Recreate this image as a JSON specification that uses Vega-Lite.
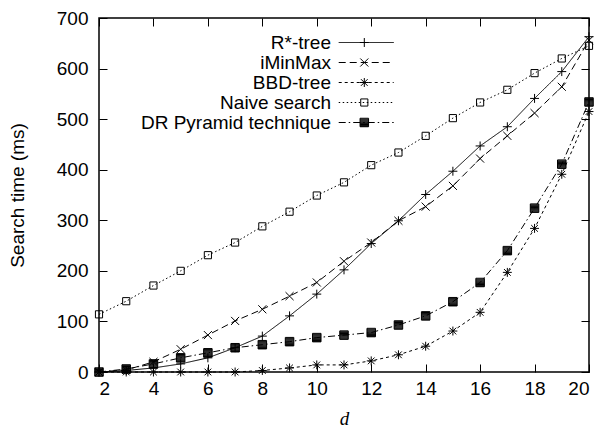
{
  "$schema": "https://vega.github.io/schema/vega-lite/v6.json",
  "autosize": "none",
  "padding": {"left": 99, "top": 18, "right": 13, "bottom": 57},
  "width": 490,
  "height": 354,
  "background": "white",
  "config": {
    "view": {"stroke": "black", "strokeWidth": 1.5},
    "font": "Liberation Sans",
    "axis": {
      "grid": false,
      "domain": false,
      "ticks": true,
      "tickColor": "black",
      "tickWidth": 1,
      "tickSize": -8,
      "labelFont": "Liberation Sans",
      "labelFontSize": 19,
      "labelColor": "black",
      "titleColor": "black",
      "titleFontWeight": "normal",
      "titleFontSize": 19
    },
    "legend": {
      "title": null,
      "padding": 0,
      "labelFont": "Liberation Sans",
      "labelFontSize": 19,
      "labelColor": "black",
      "labelLimit": 0,
      "rowPadding": -0.5,
      "symbolStrokeColor": "black",
      "symbolStrokeWidth": 1,
      "symbolFillColor": "transparent"
    }
  },
  "data": {
    "values": [
      {"d": 2, "series": "R*-tree", "t": 0},
      {"d": 3, "series": "R*-tree", "t": 3},
      {"d": 4, "series": "R*-tree", "t": 8},
      {"d": 5, "series": "R*-tree", "t": 16},
      {"d": 6, "series": "R*-tree", "t": 28},
      {"d": 7, "series": "R*-tree", "t": 48},
      {"d": 8, "series": "R*-tree", "t": 71},
      {"d": 9, "series": "R*-tree", "t": 111},
      {"d": 10, "series": "R*-tree", "t": 154},
      {"d": 11, "series": "R*-tree", "t": 202},
      {"d": 12, "series": "R*-tree", "t": 254},
      {"d": 13, "series": "R*-tree", "t": 299},
      {"d": 14, "series": "R*-tree", "t": 351},
      {"d": 15, "series": "R*-tree", "t": 397},
      {"d": 16, "series": "R*-tree", "t": 447},
      {"d": 17, "series": "R*-tree", "t": 485},
      {"d": 18, "series": "R*-tree", "t": 541},
      {"d": 19, "series": "R*-tree", "t": 594},
      {"d": 20, "series": "R*-tree", "t": 663},
      {"d": 2, "series": "iMinMax", "t": 0},
      {"d": 3, "series": "iMinMax", "t": 4},
      {"d": 4, "series": "iMinMax", "t": 20},
      {"d": 5, "series": "iMinMax", "t": 45},
      {"d": 6, "series": "iMinMax", "t": 73},
      {"d": 7, "series": "iMinMax", "t": 101},
      {"d": 8, "series": "iMinMax", "t": 124},
      {"d": 9, "series": "iMinMax", "t": 150},
      {"d": 10, "series": "iMinMax", "t": 177},
      {"d": 11, "series": "iMinMax", "t": 219},
      {"d": 12, "series": "iMinMax", "t": 256},
      {"d": 13, "series": "iMinMax", "t": 299},
      {"d": 14, "series": "iMinMax", "t": 327},
      {"d": 15, "series": "iMinMax", "t": 368},
      {"d": 16, "series": "iMinMax", "t": 422},
      {"d": 17, "series": "iMinMax", "t": 467},
      {"d": 18, "series": "iMinMax", "t": 512},
      {"d": 19, "series": "iMinMax", "t": 564},
      {"d": 20, "series": "iMinMax", "t": 656},
      {"d": 2, "series": "BBD-tree", "t": 0},
      {"d": 3, "series": "BBD-tree", "t": 0},
      {"d": 4, "series": "BBD-tree", "t": 0},
      {"d": 5, "series": "BBD-tree", "t": 0},
      {"d": 6, "series": "BBD-tree", "t": 0},
      {"d": 7, "series": "BBD-tree", "t": 0},
      {"d": 8, "series": "BBD-tree", "t": 3},
      {"d": 9, "series": "BBD-tree", "t": 8},
      {"d": 10, "series": "BBD-tree", "t": 14},
      {"d": 11, "series": "BBD-tree", "t": 14},
      {"d": 12, "series": "BBD-tree", "t": 22},
      {"d": 13, "series": "BBD-tree", "t": 34},
      {"d": 14, "series": "BBD-tree", "t": 51},
      {"d": 15, "series": "BBD-tree", "t": 81},
      {"d": 16, "series": "BBD-tree", "t": 118},
      {"d": 17, "series": "BBD-tree", "t": 197},
      {"d": 18, "series": "BBD-tree", "t": 284},
      {"d": 19, "series": "BBD-tree", "t": 391},
      {"d": 20, "series": "BBD-tree", "t": 515},
      {"d": 2, "series": "Naive search", "t": 114},
      {"d": 3, "series": "Naive search", "t": 140},
      {"d": 4, "series": "Naive search", "t": 171},
      {"d": 5, "series": "Naive search", "t": 200},
      {"d": 6, "series": "Naive search", "t": 231},
      {"d": 7, "series": "Naive search", "t": 256},
      {"d": 8, "series": "Naive search", "t": 288},
      {"d": 9, "series": "Naive search", "t": 317},
      {"d": 10, "series": "Naive search", "t": 349},
      {"d": 11, "series": "Naive search", "t": 375},
      {"d": 12, "series": "Naive search", "t": 409},
      {"d": 13, "series": "Naive search", "t": 434},
      {"d": 14, "series": "Naive search", "t": 467},
      {"d": 15, "series": "Naive search", "t": 502},
      {"d": 16, "series": "Naive search", "t": 533},
      {"d": 17, "series": "Naive search", "t": 558},
      {"d": 18, "series": "Naive search", "t": 591},
      {"d": 19, "series": "Naive search", "t": 620},
      {"d": 20, "series": "Naive search", "t": 645},
      {"d": 2, "series": "DR Pyramid technique", "t": 0},
      {"d": 3, "series": "DR Pyramid technique", "t": 6},
      {"d": 4, "series": "DR Pyramid technique", "t": 16},
      {"d": 5, "series": "DR Pyramid technique", "t": 28},
      {"d": 6, "series": "DR Pyramid technique", "t": 38},
      {"d": 7, "series": "DR Pyramid technique", "t": 48},
      {"d": 8, "series": "DR Pyramid technique", "t": 54},
      {"d": 9, "series": "DR Pyramid technique", "t": 60},
      {"d": 10, "series": "DR Pyramid technique", "t": 68},
      {"d": 11, "series": "DR Pyramid technique", "t": 73},
      {"d": 12, "series": "DR Pyramid technique", "t": 78},
      {"d": 13, "series": "DR Pyramid technique", "t": 93},
      {"d": 14, "series": "DR Pyramid technique", "t": 111},
      {"d": 15, "series": "DR Pyramid technique", "t": 139},
      {"d": 16, "series": "DR Pyramid technique", "t": 177},
      {"d": 17, "series": "DR Pyramid technique", "t": 240},
      {"d": 18, "series": "DR Pyramid technique", "t": 324},
      {"d": 19, "series": "DR Pyramid technique", "t": 411},
      {"d": 20, "series": "DR Pyramid technique", "t": 534}
    ]
  },
  "layer": [
    {
      "mark": {"type": "line", "color": "black", "strokeWidth": 1},
      "encoding": {
        "x": {
          "field": "d", "type": "quantitative",
          "scale": {"domain": [2, 20], "nice": false, "zero": false},
          "axis": {
            "orient": "bottom",
            "values": [2, 4, 6, 8, 10, 12, 14, 16, 18, 20],
            "labelPadding": 15,
            "title": "d",
            "titleFont": "Liberation Serif",
            "titleFontStyle": "italic",
            "titleX": 245,
            "titleY": 46,
            "titleBaseline": "middle",
            "titleAlign": "center"
          }
        },
        "y": {
          "field": "t", "type": "quantitative",
          "scale": {"domain": [0, 700], "nice": false},
          "axis": {
            "orient": "left",
            "values": [0, 100, 200, 300, 400, 500, 600, 700],
            "labelPadding": 19,
            "title": "Search time (ms)",
            "titleX": -82,
            "titleY": 177,
            "titleAngle": -90,
            "titleBaseline": "middle",
            "titleAlign": "center"
          }
        },
        "strokeDash": {
          "field": "series", "type": "nominal",
          "scale": {
            "domain": ["R*-tree", "iMinMax", "BBD-tree", "Naive search", "DR Pyramid technique"],
            "range": [[1, 0], [7, 4], [3, 3], [1.5, 2.5], [7, 3, 1.5, 3]]
          },
          "legend": {
            "orient": "none",
            "legendX": 257.7,
            "legendY": 15,
            "symbolType": "M-12,0H12",
            "symbolSize": 21,
            "labelAlign": "right",
            "labelOffset": -44.7
          }
        }
      }
    },
    {
      "mark": {"type": "point", "filled": true, "fill": "transparent", "stroke": "black", "strokeWidth": 1, "opacity": 1, "size": 80},
      "encoding": {
        "x": {"field": "d", "type": "quantitative", "axis": null},
        "y": {"field": "t", "type": "quantitative", "axis": null},
        "shape": {
          "field": "series", "type": "nominal",
          "scale": {
            "domain": ["R*-tree", "iMinMax", "BBD-tree", "Naive search", "DR Pyramid technique"],
            "range": [
              "M-1,0H1M0,-1V1",
              "M-0.9,-0.9L0.9,0.9M-0.9,0.9L0.9,-0.9",
              "M-1,0H1M0,-1V1M-0.75,-0.75L0.75,0.75M-0.75,0.75L0.75,-0.75",
              "M-0.8,-0.8H0.8V0.8H-0.8Z",
              "M-0.95,-0.95H0.95V0.95H-0.95ZM-0.95,-0.75H0.95M-0.95,-0.55H0.95M-0.95,-0.35H0.95M-0.95,-0.15H0.95M-0.95,0.05H0.95M-0.95,0.25H0.95M-0.95,0.45H0.95M-0.95,0.65H0.95M-0.95,0.85H0.95"
            ]
          },
          "legend": {
            "orient": "top-left",
            "offset": 15,
            "symbolOffset": 240.8,
            "symbolSize": 80,
            "labelOpacity": 0
          }
        }
      }
    },
    {
      "mark": {"type": "point", "opacity": 0},
      "encoding": {
        "x": {"field": "d", "type": "quantitative", "axis": {"orient": "top", "values": [2, 4, 6, 8, 10, 12, 14, 16, 18, 20], "labels": false, "title": null}},
        "y": {"field": "t", "type": "quantitative", "axis": {"orient": "right", "values": [0, 100, 200, 300, 400, 500, 600, 700], "labels": false, "title": null}}
      }
    }
  ],
  "resolve": {"axis": {"x": "independent", "y": "independent"}}
}
